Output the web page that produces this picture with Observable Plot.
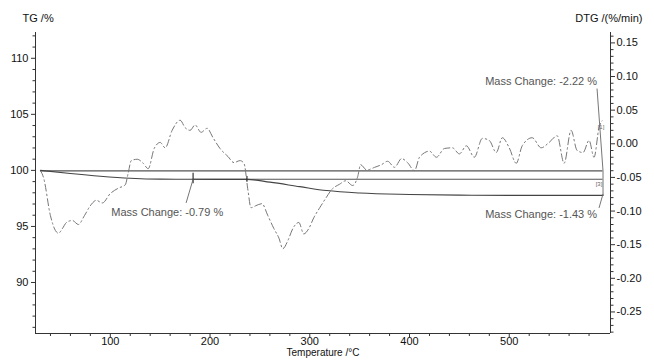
<!DOCTYPE html>
<html><head><meta charset="utf-8">
<script src="https://cdn.jsdelivr.net/npm/d3@7"></script>
<script src="https://cdn.jsdelivr.net/npm/@observablehq/plot@0.6"></script>
<style>
html,body{margin:0;padding:0;background:#fff;}
svg{font-family:Arial,"Liberation Sans",sans-serif;}
</style></head>
<body><div id="chart"></div>
<script>
// TG curve (left axis, %)
const tgTemp = [30, 60, 90, 120, 150, 183, 210, 237, 260, 290, 317, 350, 400, 450, 500, 594];
const tgValue = [100.0, 99.72, 99.48, 99.3, 99.22, 99.21, 99.2, 99.2, 98.95, 98.55, 98.2, 97.98, 97.85, 97.79, 97.77, 97.77];

// DTG curve (right axis, %/min)
const dtgTemp = [30,33,40,45,48,52,56,62,68,74,80,86,92,100,108,115,118,121,127,133,138,144,150,155,162,170,175,180,185,191,197,203,210,218,224,230,234,238,241,246,252,258,264,269,273,278,283,289,294,299,304,310,316,322,330,336,343,348,351,357,365,372,378,385,392,398,405,410,420,427,435,443,450,457,465,473,480,487,493,500,507,513,523,532,540,548,555,562,568,574,580,585,590,593];
const dtgValue = [-0.040,-0.050,-0.107,-0.129,-0.133,-0.126,-0.117,-0.114,-0.120,-0.107,-0.092,-0.084,-0.088,-0.074,-0.066,-0.061,-0.043,-0.025,-0.023,-0.029,-0.037,-0.007,0.002,-0.006,0.020,0.035,0.024,0.020,0.028,0.017,0.023,0.009,-0.007,-0.019,-0.028,-0.025,-0.029,-0.069,-0.095,-0.092,-0.089,-0.107,-0.126,-0.140,-0.156,-0.144,-0.126,-0.117,-0.134,-0.126,-0.110,-0.095,-0.081,-0.068,-0.060,-0.055,-0.062,-0.049,-0.031,-0.039,-0.035,-0.031,-0.026,-0.035,-0.022,-0.028,-0.040,-0.020,-0.011,-0.020,-0.007,-0.006,-0.015,-0.003,-0.020,0.008,0.005,-0.013,0.009,-0.006,-0.029,-0.003,0.009,-0.006,0.002,0.012,-0.029,0.020,-0.010,-0.013,0.005,-0.020,0.024,0.034];

// axis ticks
const xTicks = [100, 200, 300, 400, 500];
const xMinor = d3.range(40, 601, 20).filter(v => v % 100 !== 0);
const tgTicks = [90, 95, 100, 105, 110];
const tgMinor = d3.range(86, 113, 1).filter(v => v % 5 !== 0);
const dtgTicks = [-0.25, -0.20, -0.15, -0.10, -0.05, 0.00, 0.05, 0.10, 0.15];
const dtgMinor = d3.range(-28, 17, 1).filter(v => v % 5 !== 0).map(v => v / 100);

// evaluation lines
const refTempStart = [30, 183];
const refTempEnd = [594, 594];
const refLevel = [99.95, 99.21];

// annotations
const annoText = ["Mass Change: -0.79 %", "Mass Change: -2.22 %", "Mass Change: -1.43 %"];
const annoTemp = [101, 588, 588];
const annoTG = [96.25, 107.95, 96.07];
const annoAnchor = ["start", "end", "end"];
const linkT1 = [176, 588, 590, 594];
const linkY1 = [97.1, 107.3, 96.65, 99.95];
const linkT2 = [183, 594, 594, 594];
const linkY2 = [99.21, 99.95, 97.9, 97.77];
const markT = [183, 237];
const markY1 = [99.75, 99.45];
const markY2 = [98.8, 98.95];
const smallText = ["[1]", "[3]"];
const smallT = [592, 590];
const smallY = [103.9, 98.75];

// DTG -> TG-scale mapping (shared pixel space)
const K = 102.373, S = 60;
const toTG = d => K + S * d;
const fromTG = v => Math.round(((v - K) / S) * 100) / 100;

const xDomain = [25, 601.5];
const yDomain = [85.45, 112.3];

const dtgData = dtgTemp.map((t, i) => ({t, v: toTG(dtgValue[i])}));
const tgData = tgTemp.map((t, i) => ({t, v: tgValue[i]}));
const refData = refLevel.map((v, i) => ({x1: refTempStart[i], x2: refTempEnd[i], y: v}));
const annoData = annoText.map((s, i) => ({s, t: annoTemp[i], v: annoTG[i], a: annoAnchor[i]}));
const linkData = linkT1.map((t, i) => ({x1: t, y1: linkY1[i], x2: linkT2[i], y2: linkY2[i]}));
const markData = markT.map((t, i) => ({t, y1: markY1[i], y2: markY2[i]}));
const smallData = smallText.map((s, i) => ({s, t: smallT[i], v: smallY[i]}));

const axisColor = "#333";
const chart = Plot.plot({
  width: 654,
  height: 362,
  marginLeft: 35,
  marginRight: 44,
  marginTop: 32,
  marginBottom: 29,
  style: {fontFamily: "Arial, 'Liberation Sans', sans-serif", fontSize: "11px", color: "#111", background: "#fff"},
  x: {domain: xDomain},
  y: {domain: yDomain},
  marks: [
    // minor ticks
    Plot.axisX(xMinor, {tickSize: 3, tickFormat: () => "", stroke: axisColor, label: null}),
    Plot.axisY(tgMinor, {anchor: "left", tickSize: 2.5, tickFormat: () => "", stroke: axisColor, label: null}),
    Plot.axisY(dtgMinor.map(toTG), {anchor: "right", tickSize: 2.5, tickFormat: () => "", stroke: axisColor, label: null}),
    // major ticks
    Plot.axisX(xTicks, {tickSize: 4, tickPadding: 0, stroke: axisColor, fill: "#111", fontSize: 11, label: null}),
    Plot.axisY(tgTicks, {anchor: "left", tickSize: 4, tickPadding: 3, stroke: axisColor, fill: "#111", fontSize: 11, label: null}),
    Plot.axisY(dtgTicks.map(toTG), {anchor: "right", tickSize: 4, tickPadding: 2, stroke: axisColor, fill: "#111", fontSize: 11, label: null,
      tickFormat: v => fromTG(v).toFixed(2)}),
    // frame lines (left, right, bottom; no top)
    Plot.ruleX(xDomain, {stroke: axisColor, strokeWidth: 1}),
    Plot.ruleY([yDomain[0]], {stroke: axisColor, strokeWidth: 1}),
    // evaluation reference lines
    Plot.ruleY(refData, {x1: "x1", x2: "x2", y: "y", stroke: "#555", strokeWidth: 1.2}),
    // DTG curve
    Plot.line(dtgData, {x: "t", y: "v", stroke: "#777", strokeWidth: 1, strokeDasharray: "7,3,1.5,3", curve: "monotone-x"}),
    // TG curve
    Plot.line(tgData, {x: "t", y: "v", stroke: "#444", strokeWidth: 1.1, curve: "monotone-x"}),
    // markers and connectors
    Plot.ruleX(markData, {x: "t", y1: "y1", y2: "y2", stroke: "#333", strokeWidth: 1.2}),
    Plot.link(linkData, {x1: "x1", y1: "y1", x2: "x2", y2: "y2", stroke: "#666", strokeWidth: 0.9}),
    Plot.text(annoData.filter(d => d.a === "start"), {x: "t", y: "v", text: "s", textAnchor: "start", fill: "#555", fontSize: 11}),
    Plot.text(annoData.filter(d => d.a === "end"), {x: "t", y: "v", text: "s", textAnchor: "end", fill: "#555", fontSize: 11}),
    Plot.text(smallData, {x: "t", y: "v", text: "s", fill: "#666", fontSize: 6}),
    // titles
    Plot.text(["TG /%"], {frameAnchor: "top-left", dx: -13, dy: -18, textAnchor: "start", fill: "#111", fontSize: 11}),
    Plot.text(["DTG /(%/min)"], {frameAnchor: "top-right", dx: 32, dy: -18, textAnchor: "end", fill: "#111", fontSize: 11}),
    Plot.text(["Temperature /°C"], {frameAnchor: "bottom", dy: 22, fill: "#111", fontSize: 10})
  ]
});
document.getElementById("chart").appendChild(chart);
</script>
</body></html>
